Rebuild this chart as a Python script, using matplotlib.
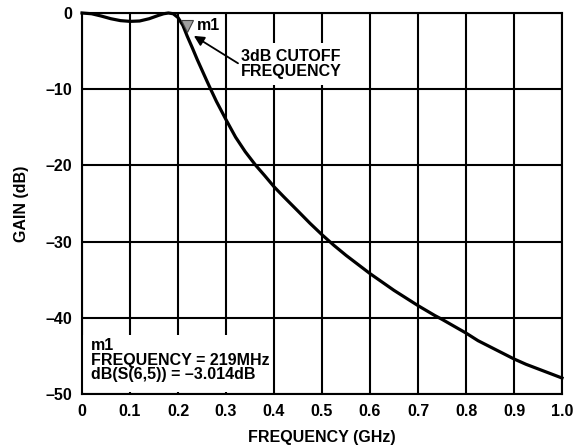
import matplotlib
matplotlib.use("Agg")
import matplotlib.pyplot as plt
import matplotlib.transforms as mtransforms
from matplotlib.patches import Rectangle

plt.rcParams['font.family'] = ['Liberation Sans', 'DejaVu Sans']
plt.rcParams['font.weight'] = 'bold'

# filter response, S(6,5)
freq_ghz = [0, 0.02, 0.04, 0.06, 0.08, 0.1, 0.12, 0.14, 0.16, 0.17,
            0.18, 0.19, 0.2, 0.21, 0.219, 0.23, 0.24, 0.25, 0.26, 0.268,
            0.28, 0.29, 0.3, 0.32, 0.34, 0.362, 0.38, 0.4, 0.42, 0.45,
            0.475, 0.5, 0.525, 0.55, 0.575, 0.6, 0.625, 0.65, 0.675, 0.7,
            0.735, 0.75, 0.775, 0.8, 0.825, 0.85, 0.875, 0.9, 0.925, 0.95,
            0.975, 1.0]
gain_db = [0, -0.1, -0.4, -0.75, -1.0, -1.1, -1.05, -0.75, -0.3, -0.1,
           0.0, -0.1, -0.6, -1.6, -3.014, -4.6, -6.1, -7.5, -8.9, -10.0,
           -11.6, -12.8, -14.0, -16.3, -18.2, -20.0, -21.3, -22.8, -24.1, -26.0,
           -27.6, -29.1, -30.5, -31.8, -33.0, -34.2, -35.3, -36.4, -37.4, -38.4,
           -39.7, -40.2, -41.1, -42.0, -43.0, -43.8, -44.6, -45.4, -46.1, -46.7,
           -47.3, -47.9]

m1_freq = 0.219
m1_gain = -3.014

xticks = [0, 0.1, 0.2, 0.3, 0.4, 0.5, 0.6, 0.7, 0.8, 0.9, 1.0]
xticklabels = ['0', '0.1', '0.2', '0.3', '0.4', '0.5', '0.6', '0.7', '0.8', '0.9', '1.0']
yticks = [0, -10, -20, -30, -40, -50]
yticklabels = ['0', '\u201310', '\u201320', '\u201330', '\u201340', '\u201350']

fs = 11.5

fig = plt.figure(figsize=(5.8, 4.48), dpi=100)
ax = fig.add_axes([0.1414, 0.1205, 0.8276, 0.8505])

ax.set_xlim(0, 1.0)
ax.set_ylim(-50, 0)
ax.set_xticks(xticks)
ax.set_xticklabels(xticklabels)
ax.set_yticks(yticks)
ax.set_yticklabels(yticklabels)
ax.tick_params(length=0, labelsize=fs, pad=7)
ax.grid(True, color='black', linewidth=1.5)
ax.set_axisbelow(True)
for s in ax.spines.values():
    s.set_linewidth(1.5)

ax.set_xlabel('FREQUENCY (GHz)', fontsize=fs, fontweight='bold', labelpad=8)
ax.set_ylabel('GAIN (dB)', fontsize=fs, fontweight='bold', labelpad=12)

ax.plot(freq_ghz, gain_db, color='black', linewidth=2.3, zorder=3,
        clip_on=False, solid_joinstyle='round')

# marker m1 sits just above the trace point
shift = mtransforms.ScaledTranslation(0, 7 / 72, fig.dpi_scale_trans)
ax.plot([m1_freq], [m1_gain], marker='v', markersize=9, color='#a0a0a0',
        markeredgecolor='#404040', markeredgewidth=0.8, zorder=4,
        transform=ax.transData + shift)
ax.text(m1_freq + 0.021, -1.7, 'm1', fontsize=fs, fontweight='bold', va='center', zorder=5)

# cutoff callout
ax.text(0.332, -6.7, '3dB CUTOFF\nFREQUENCY', fontsize=fs, fontweight='bold',
        ha='left', va='center', linespacing=1.0, zorder=2,
        bbox=dict(facecolor='white', edgecolor='none', pad=4))
ax.annotate('', xy=(0.233, -3.0), xytext=(0.325, -6.6),
            arrowprops=dict(arrowstyle='-|>', color='black', lw=1.3,
                            mutation_scale=15, shrinkA=0, shrinkB=0),
            zorder=5)

# marker readout box
ax.add_patch(Rectangle((0.003, -49.8), 0.39, 7.5, facecolor='white',
                       edgecolor='none', zorder=1))
ax.text(0.018, -42.7, 'm1\nFREQUENCY = 219MHz\ndB(S(6,5)) = \u20133.014dB',
        fontsize=fs, fontweight='bold', va='top', ha='left', linespacing=0.95, zorder=5)

fig.savefig('out.png', dpi=100)
